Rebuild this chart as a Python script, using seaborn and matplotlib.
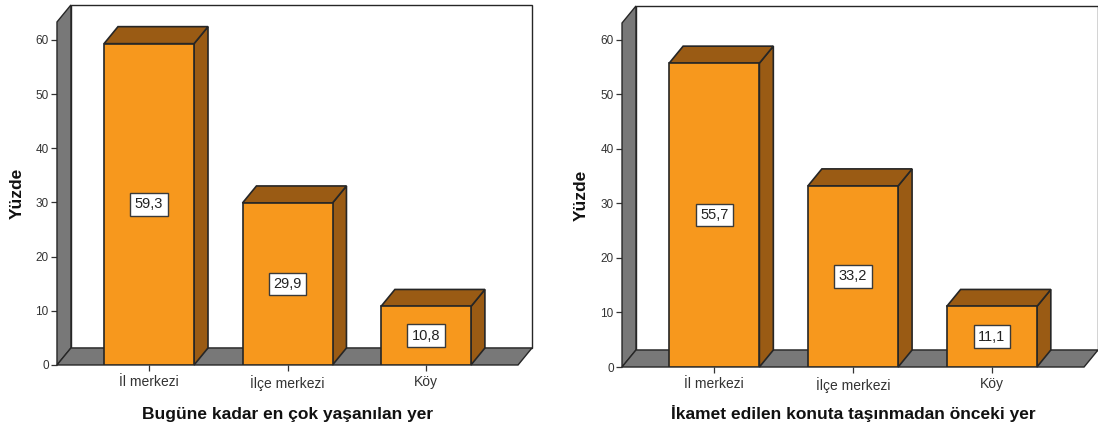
import matplotlib
matplotlib.use("Agg")
import matplotlib.pyplot as plt
import pandas as pd
import seaborn as sns
from matplotlib.patches import Polygon, Rectangle

# Data
categories = ["İl merkezi", "İlçe merkezi", "Köy"]
most_lived_pct = [59.3, 29.9, 10.8]
before_move_pct = [55.7, 33.2, 11.1]
xlabel_left = "Bugüne kadar en çok yaşanılan yer"
xlabel_right = "İkamet edilen konuta taşınmadan önceki yer"
ylabel = "Yüzde"
yticks = [0, 10, 20, 30, 40, 50, 60]

ORANGE = "#F7981D"
BROWN = "#9A5B14"
GRAY = "#787878"
EDGE = "#262626"
TXT = "#333333"

sns.set_style("white")
plt.rcParams["font.family"] = ["Liberation Sans", "DejaVu Sans"]

fig = plt.figure(figsize=(10.98, 4.30), dpi=100)


def draw_panel(rect, values, xlabel, ytop, depth_px=17.0):
    ax = fig.add_axes(rect)
    df = pd.DataFrame({"yer": categories, "yuzde": values})
    sns.barplot(data=df, x="yer", y="yuzde", color=ORANGE, saturation=1,
                width=0.65, edgecolor=EDGE, linewidth=1.2, ax=ax, zorder=4)

    xmin, xmax = -0.665, 2.665
    ax.set_xlim(xmin, xmax)
    ax.set_ylim(0, ytop)

    # depth offset of the pseudo-3D box, converted to data units
    fig_w_px = fig.get_figwidth() * fig.dpi
    fig_h_px = fig.get_figheight() * fig.dpi
    ax_w_px = rect[2] * fig_w_px
    ax_h_px = rect[3] * fig_h_px
    dx = (depth_px * 0.82) * (xmax - xmin) / ax_w_px
    dy = depth_px * ytop / ax_h_px

    # back wall
    ax.add_patch(Rectangle((xmin + dx, dy), xmax - xmin, ytop, fc="white",
                           ec=EDGE, lw=1.0, zorder=1, clip_on=False))
    # left wall
    ax.add_patch(Polygon([(xmin, 0), (xmin, ytop), (xmin + dx, ytop + dy),
                          (xmin + dx, dy)], closed=True, fc=GRAY, ec=EDGE,
                         lw=1.0, zorder=2, clip_on=False))
    # floor
    ax.add_patch(Polygon([(xmin, 0), (xmax, 0), (xmax + dx, dy),
                          (xmin + dx, dy)], closed=True, fc=GRAY, ec=EDGE,
                         lw=1.0, zorder=2, clip_on=False))

    for bar, v in zip(ax.patches[:len(values)], values):
        x0 = bar.get_x()
        w = bar.get_width()
        h = bar.get_height()
        side = [(x0 + w, 0), (x0 + w + dx, dy), (x0 + w + dx, h + dy), (x0 + w, h)]
        top = [(x0, h), (x0 + w, h), (x0 + w + dx, h + dy), (x0 + dx, h + dy)]
        for pts in (side, top):
            ax.add_patch(Polygon(pts, closed=True, fc=BROWN, ec=EDGE, lw=1.2,
                                 zorder=3, clip_on=False))
        ax.text(x0 + w / 2, h / 2, f"{v:.1f}".replace(".", ","),
                ha="center", va="center", fontsize=10.5, color="#222222",
                zorder=6,
                bbox=dict(boxstyle="square,pad=0.3", fc="white",
                          ec="#3a3a3a", lw=1.0))

    for s in ax.spines.values():
        s.set_visible(False)
    ax.set_yticks(yticks)
    ax.tick_params(axis="y", direction="out", length=4.5, width=0.9,
                   color=TXT, labelcolor=TXT, labelsize=8.5, pad=1.5, left=True)
    ax.tick_params(axis="x", direction="out", length=4.5, width=0.9,
                   color=TXT, labelcolor=TXT, labelsize=10, pad=3, bottom=True)
    ax.set_xlabel(xlabel, fontsize=12.5, fontweight="bold", color="#111111")
    ax.set_ylabel(ylabel, fontsize=12.5, fontweight="bold", color="#111111")
    ax.xaxis.label.set_va("center")
    ax.yaxis.label.set_va("center")
    ax.yaxis.label.set_ha("center")
    ax.xaxis.set_label_coords(0.5, -(414 - (430 - rect[1] * fig_h_px)) / ax_h_px)
    return ax


axL = draw_panel([0.0519, 0.1512, 0.4199, 0.7977], most_lived_pct, xlabel_left, 63.3)
axL.yaxis.set_label_coords(-0.087, 0.5)
axR = draw_panel([0.5665, 0.1465, 0.4208, 0.8000], before_move_pct, xlabel_right, 63.06)
axR.yaxis.set_label_coords(-0.089, 0.5)

fig.savefig("out.png", dpi=100)
